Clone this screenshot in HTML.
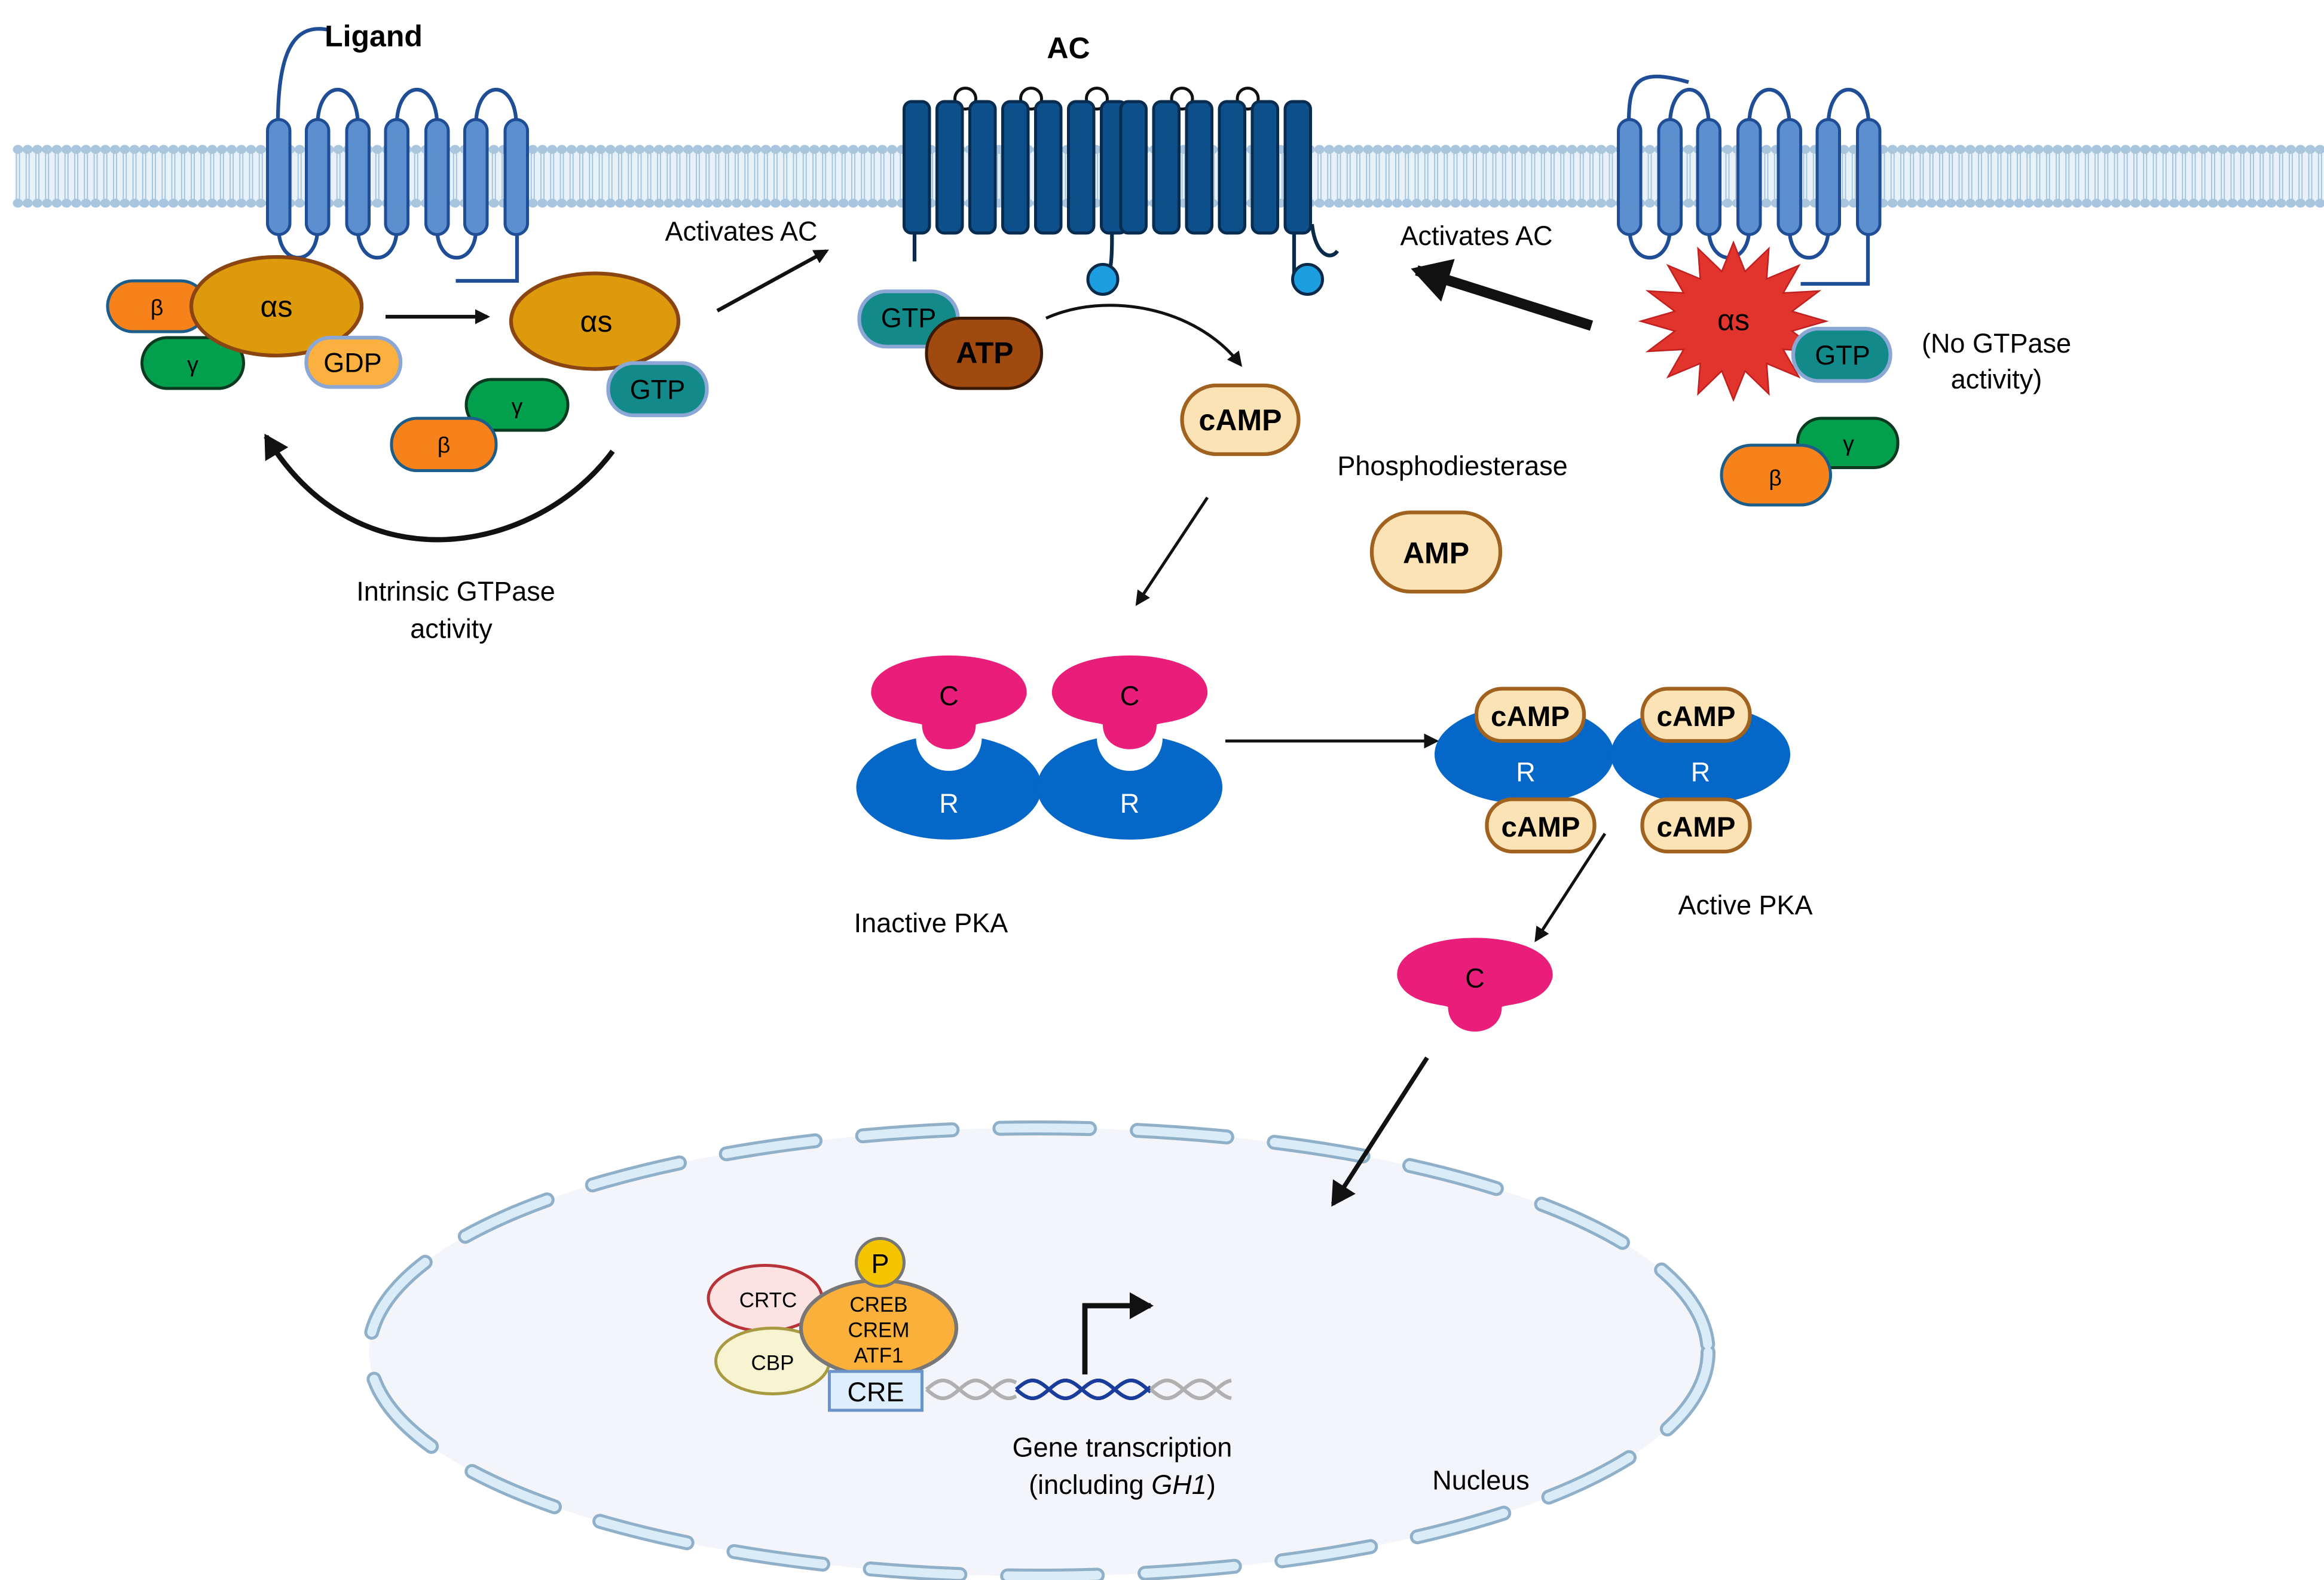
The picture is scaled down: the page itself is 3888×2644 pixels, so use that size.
<!DOCTYPE html>
<html><head><meta charset="utf-8"><style>
html,body{margin:0;padding:0;background:#fff;}
svg{display:block;}
text{font-family:"Liberation Sans",sans-serif;}
</style></head><body>
<svg id="s" width="3888" height="2644" viewBox="0 0 1555.2 1057.6" xmlns="http://www.w3.org/2000/svg">
<defs>
<marker id="ah" markerWidth="10" markerHeight="10" refX="8" refY="5" orient="auto" markerUnits="userSpaceOnUse"><path d="M0,0 L10,5 L0,10 z" fill="#111"/></marker>
<marker id="ahb" markerWidth="30" markerHeight="30" refX="22" refY="15" orient="auto" markerUnits="userSpaceOnUse"><path d="M0,0 L26,15 L0,30 z" fill="#111"/></marker>
<marker id="ahm" markerWidth="18" markerHeight="18" refX="14" refY="9" orient="auto" markerUnits="userSpaceOnUse"><path d="M0,0 L16,9 L0,18 z" fill="#111"/></marker>
</defs>
<rect width="1555.2" height="1057.6" fill="#fff"/>
<g id="mem"></g>
<!-- Nucleus -->
<ellipse cx="695" cy="905" rx="448" ry="150" fill="#f3f5fb"/>
<ellipse cx="695" cy="905" rx="448" ry="150" fill="none" stroke="#8fb0c8" stroke-width="10" stroke-dasharray="60 32" stroke-linecap="round"/>
<ellipse cx="695" cy="905" rx="448" ry="150" fill="none" stroke="#d9ecf8" stroke-width="6" stroke-dasharray="60 32" stroke-linecap="round"/>
<g id="rec"></g>
<!-- Left G protein -->
<g font-size="18" text-anchor="middle">
<rect x="72" y="188" width="66" height="34" rx="17" fill="#f7821b" stroke="#1c5d8a" stroke-width="2"/><text x="105" y="211" font-size="15">β</text>
<rect x="95" y="226" width="68" height="34" rx="17" fill="#02a04d" stroke="#0b3a20" stroke-width="2"/><text x="129" y="249" font-size="15">γ</text>
<ellipse cx="185" cy="205" rx="57" ry="33" fill="#dc9a0c" stroke="#8b4513" stroke-width="2.5"/><text x="185" y="212" font-size="20">αs</text>
<rect x="205" y="226" width="63" height="33" rx="16" fill="#fbb040" stroke="#8aa7d6" stroke-width="2.5"/><text x="236" y="249">GDP</text>
<line x1="258" y1="212" x2="326" y2="212" stroke="#111" stroke-width="2.5" marker-end="url(#ah)"/>
<ellipse cx="398" cy="215" rx="56" ry="32" fill="#dc9a0c" stroke="#8b4513" stroke-width="2.5"/><text x="399" y="222" font-size="20">αs</text>
<rect x="312" y="254" width="68" height="34" rx="17" fill="#02a04d" stroke="#0b3a20" stroke-width="2"/><text x="346" y="277" font-size="15">γ</text>
<rect x="262" y="280" width="70" height="35" rx="17" fill="#f7821b" stroke="#1c5d8a" stroke-width="2"/><text x="297" y="303" font-size="15">β</text>
<rect x="407" y="243" width="66" height="35" rx="17" fill="#138a8a" stroke="#8aa7d6" stroke-width="2.5"/><text x="440" y="267">GTP</text>
<path d="M410,302 C360,370 240,395 178,292" fill="none" stroke="#111" stroke-width="3.5" marker-end="url(#ahm)"/>
<text x="305" y="402">Intrinsic GTPase</text><text x="302" y="427">activity</text>
<text x="496" y="161">Activates AC</text>
<line x1="480" y1="208" x2="553" y2="168" stroke="#111" stroke-width="2.5" marker-end="url(#ah)"/>
<text x="250" y="31" font-weight="bold" font-size="20">Ligand</text>
<text x="715" y="39" font-weight="bold" font-size="20">AC</text>
<!-- AC area -->
<rect x="575" y="195" width="66" height="37" rx="18" fill="#138a8a" stroke="#8aa7d6" stroke-width="2.5"/><text x="608" y="219">GTP</text>
<rect x="620" y="213" width="77" height="47" rx="23" fill="#a04a10" stroke="#3a1a05" stroke-width="2"/><text x="659" y="243" font-weight="bold" font-size="20">ATP</text>
<path d="M700,213 C740,195 800,205 830,244" fill="none" stroke="#111" stroke-width="2" marker-end="url(#ah)"/>
<rect x="791" y="258" width="78" height="46" rx="23" fill="#fbe3b5" stroke="#a0621e" stroke-width="2.5"/><text x="830" y="288" font-weight="bold" font-size="20">cAMP</text>
<text x="972" y="318">Phosphodiesterase</text>
<rect x="918" y="343" width="86" height="53" rx="26" fill="#fbe3b5" stroke="#a0621e" stroke-width="2.5"/><text x="961" y="377" font-weight="bold" font-size="20">AMP</text>
<line x1="808" y1="333" x2="761" y2="404" stroke="#111" stroke-width="2" marker-end="url(#ah)"/>
<text x="988" y="164">Activates AC</text>
<line x1="1065" y1="218" x2="948" y2="181" stroke="#111" stroke-width="7" marker-end="url(#ahb)"/>
<!-- Right -->
<polygon id="star" fill="#e0342c" stroke="#c02020" stroke-width="1"/>
<text x="1160" y="221" font-size="20">αs</text>
<rect x="1200" y="220" width="65" height="35" rx="17" fill="#138a8a" stroke="#8aa7d6" stroke-width="2.5"/><text x="1233" y="244">GTP</text>
<text x="1336" y="236">(No GTPase</text><text x="1336" y="260">activity)</text>
<rect x="1203" y="280" width="67" height="33" rx="16" fill="#02a04d" stroke="#0b3a20" stroke-width="2"/><text x="1237" y="302" font-size="15">γ</text>
<rect x="1152" y="298" width="73" height="40" rx="20" fill="#f7821b" stroke="#1c5d8a" stroke-width="2"/><text x="1188" y="325" font-size="15">β</text>
<!-- PKA inactive -->
<g id="pka"></g>
<text x="623" y="624">Inactive PKA</text>
<line x1="820" y1="496" x2="961" y2="496" stroke="#111" stroke-width="2" marker-end="url(#ah)"/>
<ellipse cx="1020" cy="505" rx="60" ry="33" fill="#0567c8"/><ellipse cx="1138" cy="505" rx="60" ry="33" fill="#0567c8"/>
<text x="1021" y="523" fill="#fff">R</text><text x="1138" y="523" fill="#fff">R</text>
<g font-weight="bold" font-size="19">
<rect x="988" y="461" width="72" height="35" rx="17" fill="#fbe3b5" stroke="#a0621e" stroke-width="2.5"/><text x="1024" y="486">cAMP</text>
<rect x="1099" y="461" width="72" height="35" rx="17" fill="#fbe3b5" stroke="#a0621e" stroke-width="2.5"/><text x="1135" y="486">cAMP</text>
<rect x="995" y="535" width="72" height="35" rx="17" fill="#fbe3b5" stroke="#a0621e" stroke-width="2.5"/><text x="1031" y="560">cAMP</text>
<rect x="1099" y="535" width="72" height="35" rx="17" fill="#fbe3b5" stroke="#a0621e" stroke-width="2.5"/><text x="1135" y="560">cAMP</text>
</g>
<text x="1168" y="612">Active PKA</text>
<line x1="1074" y1="558" x2="1028" y2="629" stroke="#111" stroke-width="2" marker-end="url(#ah)"/>
<line x1="955" y1="708" x2="892" y2="806" stroke="#111" stroke-width="3" marker-end="url(#ahm)"/>
<!-- nucleus content -->
<ellipse cx="512" cy="869" rx="38" ry="22" fill="#fde2e2" stroke="#b8323a" stroke-width="2"/><text x="514" y="875" font-size="14">CRTC</text>
<ellipse cx="517" cy="911" rx="38" ry="22" fill="#f8f4d2" stroke="#a89a40" stroke-width="2"/><text x="517" y="917" font-size="14">CBP</text>
<ellipse cx="588" cy="889" rx="52" ry="32" fill="#fbb03b" stroke="#777" stroke-width="2.5"/>
<text x="588" y="878" font-size="14">CREB</text><text x="588" y="895" font-size="14">CREM</text><text x="588" y="912" font-size="14">ATF1</text>
<circle cx="589" cy="845" r="16" fill="#f5c400" stroke="#777" stroke-width="2"/><text x="589" y="852">P</text>
<rect x="555" y="918" width="62" height="26" fill="#dfeefc" stroke="#6b94c8" stroke-width="2"/><text x="586" y="938">CRE</text>
<g id="dna"></g>
<path d="M726,920 V874 H770" fill="none" stroke="#111" stroke-width="3.5" marker-end="url(#ahm)"/>
<text x="751" y="975">Gene transcription</text>
<text x="751" y="1000">(including <tspan font-style="italic">GH1</tspan>)</text>
<text x="991" y="997">Nucleus</text>
</g>
</svg>
<script>
var NS="http://www.w3.org/2000/svg";
function el(p,t,a){var e=document.createElementNS(NS,t);for(var k in a)e.setAttribute(k,a[k]);p.appendChild(e);return e;}
var mem=document.getElementById("mem");
el(mem,"rect",{x:10,y:100,width:1545,height:36,fill:"#e8f1f8"});
for(var x=12;x<1555;x+=6.5){
 el(mem,"line",{x1:x-1,y1:101,x2:x-1,y2:135,stroke:"#9ec1dc","stroke-width":0.7});
 el(mem,"line",{x1:x+1,y1:101,x2:x+1,y2:135,stroke:"#9ec1dc","stroke-width":0.7});
 el(mem,"ellipse",{cx:x,cy:100,rx:3.4,ry:3,fill:"#a9c6de"});
 el(mem,"ellipse",{cx:x,cy:136,rx:3.4,ry:3,fill:"#a9c6de"});
}
var rec=document.getElementById("rec");
function receptor(xs,top,bot,w,fill,stroke){
 for(var i=0;i<xs.length;i++){
  if(i<xs.length-1){
   var a=xs[i]+w/2,b=xs[i+1]+w/2;
   if(i%2==1) el(rec,"path",{d:"M"+a+","+(top+4)+" C"+a+","+(top-28)+" "+b+","+(top-28)+" "+b+","+(top+4),fill:"none",stroke:stroke,"stroke-width":2.5});
   else el(rec,"path",{d:"M"+a+","+(bot-4)+" C"+a+","+(bot+22)+" "+b+","+(bot+22)+" "+b+","+(bot-4),fill:"none",stroke:stroke,"stroke-width":2.5});
  }
 }
 for(var i=0;i<xs.length;i++) el(rec,"rect",{x:xs[i],y:top,width:w,height:bot-top,rx:w/2,fill:fill,stroke:stroke,"stroke-width":2});
}
var L=[179,205,232,258,285,311,338];
el(rec,"path",{d:"M220,20 C200,16 186,28 186,82",fill:"none",stroke:"#1f4e96","stroke-width":2.5});
el(rec,"path",{d:"M346,155 V188 H305",fill:"none",stroke:"#1f4e96","stroke-width":2.5});
receptor(L,80,157,15,"#5b8fcf","#1f4e96");
var R=[1083,1110,1136,1163,1190,1216,1243];
el(rec,"path",{d:"M1090,82 C1090,55 1095,45 1130,55",fill:"none",stroke:"#1f4e96","stroke-width":2.5});
el(rec,"path",{d:"M1250,155 V190 H1205",fill:"none",stroke:"#1f4e96","stroke-width":2.5});
receptor(R,80,157,15,"#5b8fcf","#1f4e96");
var A1=[605,627,649,671,693,715,737],A2=[750,772,794,816,838,860];
el(rec,"path",{d:"M612,150 V175",fill:"none",stroke:"#0a2a4a","stroke-width":2.5});
el(rec,"path",{d:"M744,150 C745,190 740,185 738,186",fill:"none",stroke:"#0a2a4a","stroke-width":2.5});
el(rec,"path",{d:"M866,150 V186",fill:"none",stroke:"#0a2a4a","stroke-width":2.5});
el(rec,"path",{d:"M878,150 C880,170 890,175 895,168",fill:"none",stroke:"#0a2a4a","stroke-width":2.5});
function ac(xs){for(var i=0;i<xs.length;i++){if(i<xs.length-1&&i%2==1){var a=xs[i]+8,b=xs[i+1]+8;el(rec,"circle",{cx:(a+b)/2,cy:66,r:7,fill:"#fff",stroke:"#111","stroke-width":2});}}
 for(var i=0;i<xs.length;i++) el(rec,"rect",{x:xs[i],y:68,width:17,height:88,rx:5,fill:"#0d4f8b",stroke:"#082c50","stroke-width":2});}
ac(A1);ac(A2);
el(rec,"circle",{cx:738,cy:187,r:10,fill:"#1c9ee0",stroke:"#0a2a4a","stroke-width":2});
el(rec,"circle",{cx:875,cy:187,r:10,fill:"#1c9ee0",stroke:"#0a2a4a","stroke-width":2});
var pts=[],cx=1160,cy=215,n=16;
for(var i=0;i<2*n;i++){var r=i%2?40:62,a=Math.PI*i/n-Math.PI/2;pts.push((cx+r*Math.cos(a)).toFixed(1)+","+(cy+r*0.85*Math.sin(a)).toFixed(1));}
document.getElementById("star").setAttribute("points",pts.join(" "));
var pka=document.getElementById("pka");
function C(g,x,y){
 el(g,"path",{d:"M"+(x-52)+","+(y)+" C"+(x-55)+","+(y-35)+" "+(x+55)+","+(y-35)+" "+(x+52)+","+y+" C"+(x+48)+","+(y+18)+" "+(x+22)+","+(y+18)+" "+(x+18)+","+(y+20)+" C"+(x+18)+","+(y+42)+" "+(x-18)+","+(y+42)+" "+(x-18)+","+(y+20)+" C"+(x-22)+","+(y+18)+" "+(x-48)+","+(y+18)+" "+(x-52)+","+y+"z",fill:"#e91e7a"});
 el(g,"text",{x:x,y:y+7,"text-anchor":"middle","font-size":18}).textContent="C";
}
[[635,527],[756,527]].forEach(function(p){
 el(pka,"ellipse",{cx:p[0],cy:p[1],rx:62,ry:35,fill:"#0567c8"});
 el(pka,"circle",{cx:p[0],cy:p[1]-33,r:22,fill:"#fff"});
 el(pka,"text",{x:p[0],y:p[1]+17,"text-anchor":"middle","font-size":18,fill:"#fff"}).textContent="R";
 C(pka,p[0],p[1]-62);
});
C(pka,987,654);
var d=document.getElementById("dna");
function helix(x0,x1,col){var s1="",s2="";for(var x=x0;x<=x1;x+=2){var y=Math.sin((x-x0)/7)*6;s1+=(x==x0?"M":"L")+x+","+(930+y);s2+=(x==x0?"M":"L")+x+","+(930-y);}
 el(d,"path",{d:s1,fill:"none",stroke:col,"stroke-width":2.5});el(d,"path",{d:s2,fill:"none",stroke:col,"stroke-width":2.5});}
helix(620,680,"#b0b0b0");helix(680,770,"#1a3c9a");helix(770,825,"#b0b0b0");
</script>
</body></html>
